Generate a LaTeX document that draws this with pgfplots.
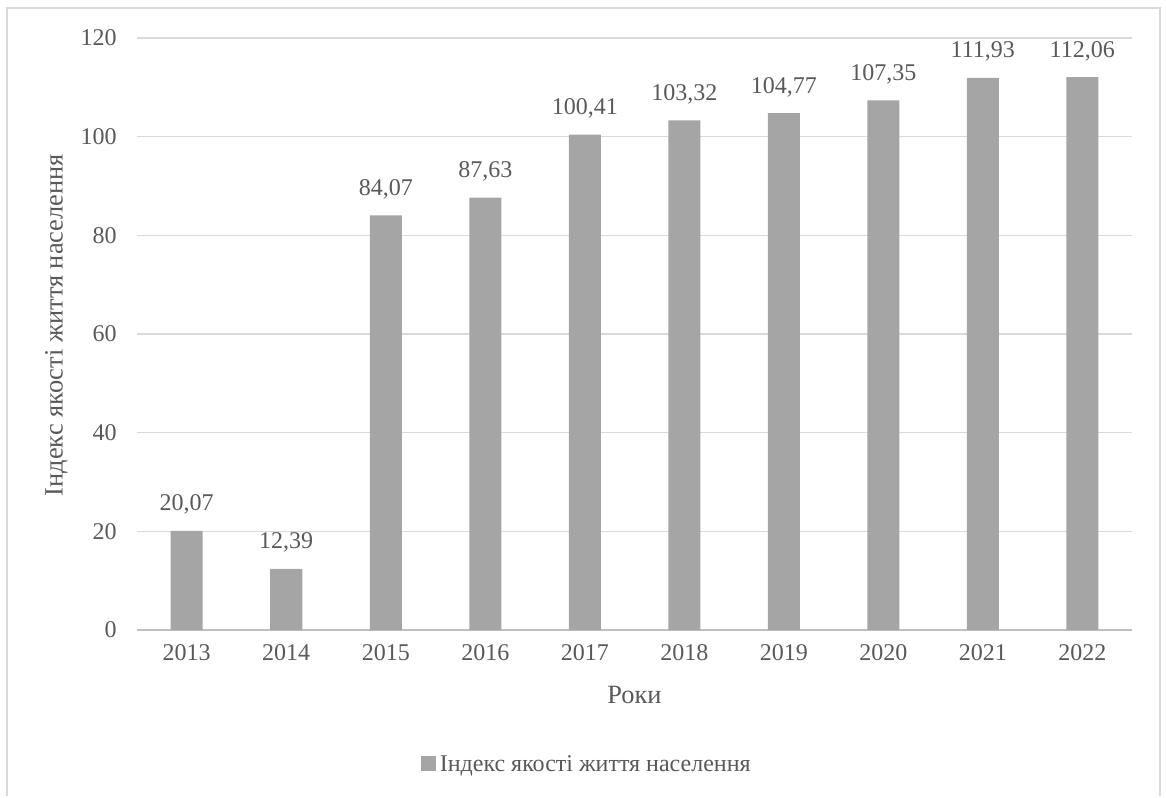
\documentclass[border=0pt]{standalone}
\usepackage{pgfplots}
\pgfplotsset{compat=1.18}
\usepackage{fontspec}
\setmainfont{Liberation Serif}
\definecolor{txt}{HTML}{595959}
\definecolor{barc}{HTML}{A5A5A5}
\definecolor{gridc}{HTML}{D9D9D9}
\definecolor{axc}{HTML}{BFBFBF}
\begin{document}
\begin{tikzpicture}
\fontsize{12pt}{14pt}\selectfont
\begin{axis}[
  scale only axis,
  width=497.5pt, height=296pt,
  xmin=-0.5, xmax=9.5,
  ymin=0, ymax=120,
  ytick={0,20,...,120},
  xtick={0,...,9},
  xticklabels={2013,2014,2015,2016,2017,2018,2019,2020,2021,2022},
  ymajorgrids,
  grid style={gridc, line width=0.6pt},
  axis x line*=bottom,
  axis y line*=left,
  x axis line style={axc, line width=0.7pt, -},
  y axis line style={draw=none},
  major tick length=0pt,
  tick style={draw=none},
  ticklabel style={font=\fontsize{12pt}{14pt}\selectfont, text=txt},
  yticklabel style={xshift=-6pt},
  xticklabel style={yshift=-3pt},
  /pgf/number format/assume math mode=true,
  ybar,
  bar width=16pt,
  nodes near coords,
  nodes near coords style={font=\fontsize{12pt}{14pt}\selectfont, text=txt, yshift=4pt,
     /pgf/number format/.cd, fixed, fixed zerofill, precision=2, use comma, assume math mode=true},
  ylabel={Індекс якості життя населення},
  xlabel={Роки},
  label style={font=\fontsize{13.2pt}{15pt}\selectfont, text=txt},
  ylabel style={at={(axis description cs:-0.081,0.515)}, anchor=center},
  xlabel style={at={(axis description cs:0.5,-0.11)}, anchor=center},
  legend style={at={(axis description cs:0.453,-0.228)}, anchor=center, draw=none,
     font=\fontsize{12pt}{14pt}\selectfont, text=txt},
  legend image code/.code={\fill[barc] (0pt,-3.2pt) rectangle (7.5pt,4.3pt);},
]
\addplot[fill=barc, draw=none] coordinates {
 (0,20.07) (1,12.39) (2,84.07) (3,87.63) (4,100.41)
 (5,103.32) (6,104.77) (7,107.35) (8,111.93) (9,112.06)};
\addlegendentry{Індекс якості життя населення}
\end{axis}
\draw[gridc, line width=1pt] (-65pt,-83pt) -- (-65pt,311pt) -- (511.5pt,311pt) -- (511.5pt,-83pt);
\useasboundingbox (-68.5pt,-83pt) rectangle (514.5pt,315pt);
\end{tikzpicture}
\end{document}
